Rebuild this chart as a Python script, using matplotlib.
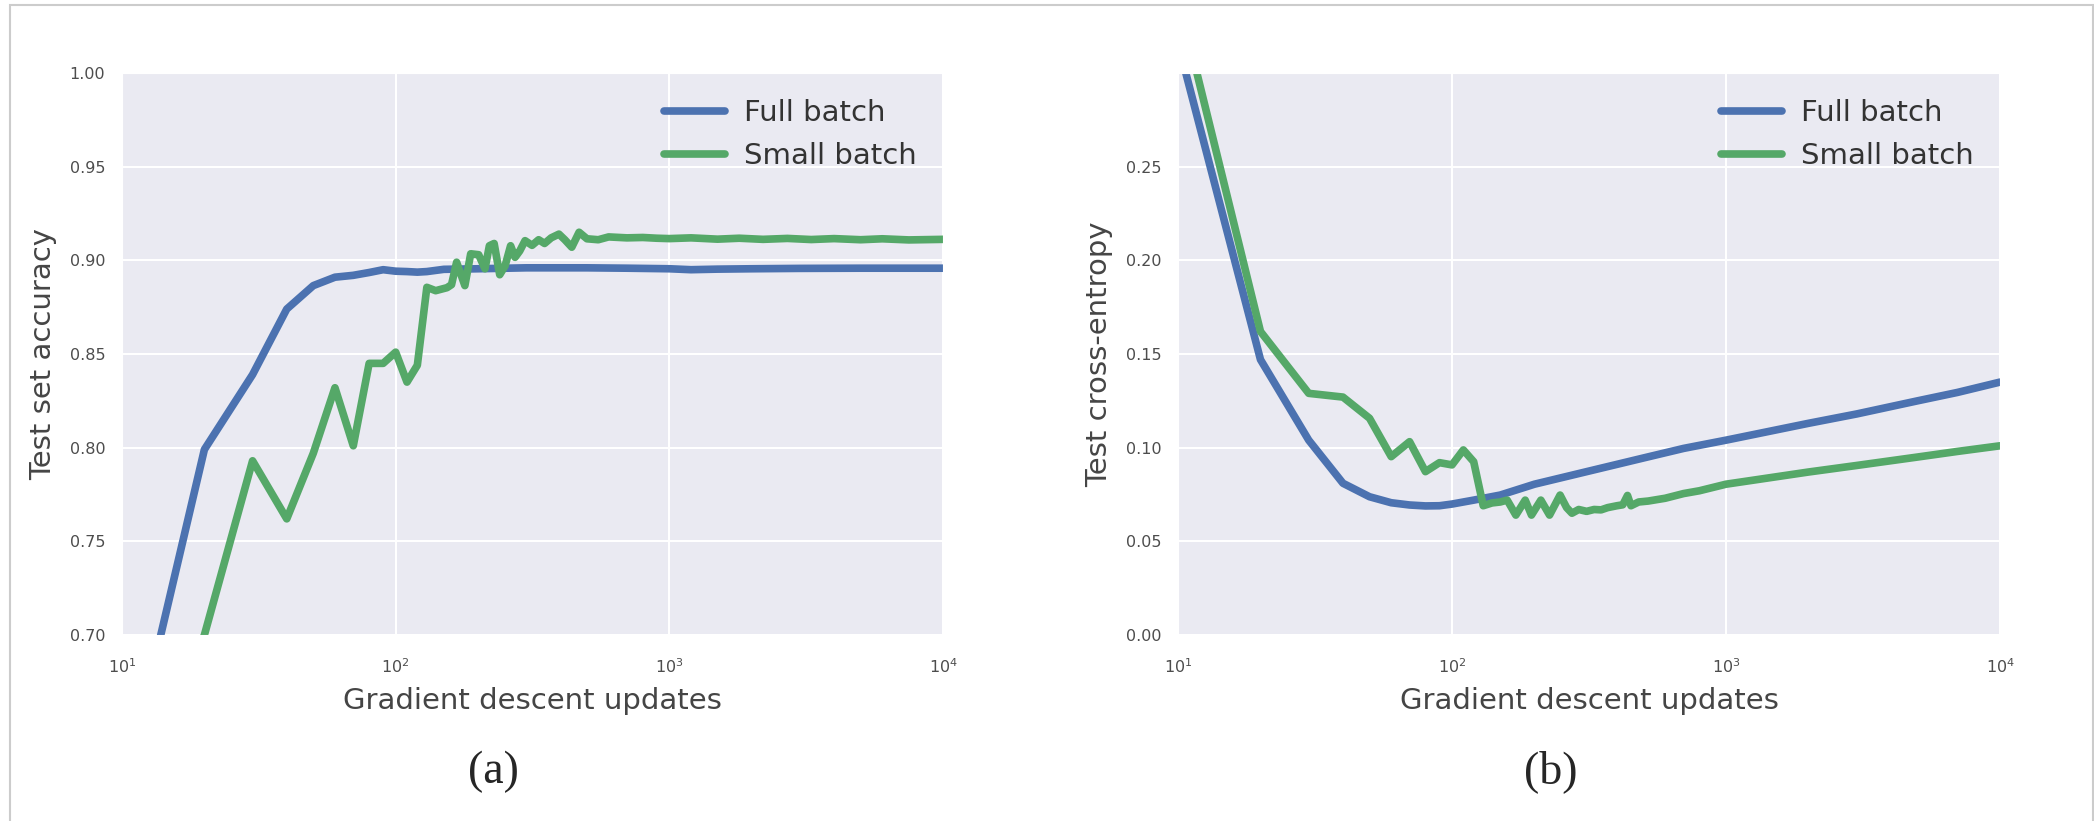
import numpy as np
import matplotlib
matplotlib.use("Agg")
import matplotlib.pyplot as plt
import seaborn as sns
from matplotlib.patches import Rectangle
from matplotlib.ticker import FormatStrFormatter

sns.set_style("darkgrid")
plt.rcParams["font.family"] = ["DejaVu Sans"]

BLUE = "#4C72B0"
GREEN = "#55A868"

# (a) test set accuracy
acc_full_x = [10, 20, 30, 40, 50, 60, 70, 80, 90, 100, 110, 120, 130, 150, 200,
              300, 500, 700, 1000, 1200, 1500, 2000, 3000, 5000, 7000, 10000]
acc_full = [0.612, 0.799, 0.839, 0.874, 0.8865, 0.891, 0.892, 0.8935, 0.895,
            0.8942, 0.894, 0.8937, 0.894, 0.8952, 0.8955, 0.896, 0.896, 0.8958,
            0.8955, 0.895, 0.8953, 0.8955, 0.8957, 0.8958, 0.8958, 0.8958]

acc_small_x = [10, 20, 30, 40, 50, 60, 70, 80, 90, 100, 110, 120, 130, 140, 154,
               160, 167, 179, 188, 201, 212, 220, 229, 240, 251, 263, 273, 284,
               297, 315, 333, 350, 370, 395, 415, 440, 468, 500, 550, 600, 700,
               800, 900, 1000, 1200, 1500, 1800, 2200, 2700, 3300, 4000, 5000,
               6000, 7500, 10000]
acc_small = [0.60, 0.700, 0.793, 0.762, 0.797, 0.832, 0.801, 0.845, 0.845, 0.851,
             0.835, 0.844, 0.8856, 0.8838, 0.8854, 0.887, 0.899, 0.8865, 0.9035,
             0.903, 0.8955, 0.9078, 0.909, 0.8923, 0.897, 0.9078, 0.9016, 0.905,
             0.9105, 0.908, 0.911, 0.909, 0.912, 0.914, 0.911, 0.907, 0.915,
             0.9115, 0.911, 0.9125, 0.912, 0.9122, 0.9118, 0.9116, 0.912, 0.9113,
             0.9118, 0.9112, 0.9117, 0.9111, 0.9116, 0.911, 0.9115, 0.9109, 0.9112]

# (b) test cross-entropy
ce_full_x = [10, 20, 30, 40, 50, 60, 70, 80, 90, 100, 120, 150, 200, 300, 500,
             700, 1000, 2000, 3000, 5000, 7000, 10000]
ce_full = [0.316, 0.147, 0.104, 0.081, 0.0738, 0.0706, 0.0694, 0.0689, 0.069,
           0.0699, 0.072, 0.0747, 0.0805, 0.0867, 0.0945, 0.0996, 0.104, 0.113,
           0.118, 0.125, 0.1295, 0.135]

ce_small_x = [10, 20, 30, 40, 50, 60, 70, 80, 90, 100, 110, 120, 130, 140, 150,
              159, 171, 185, 195, 211, 227, 248, 262, 274, 290, 310, 330, 350,
              370, 400, 420, 437, 450, 480, 520, 600, 700, 800, 1000, 2000, 3000,
              5000, 7000, 10000]
ce_small = [0.341, 0.162, 0.129, 0.127, 0.1157, 0.0952, 0.1032, 0.0872, 0.092,
            0.0908, 0.0988, 0.0925, 0.069, 0.0705, 0.071, 0.072, 0.064, 0.072,
            0.064, 0.072, 0.064, 0.0747, 0.068, 0.065, 0.067, 0.066, 0.067,
            0.0668, 0.068, 0.069, 0.0695, 0.0745, 0.069, 0.071, 0.0715, 0.073,
            0.0755, 0.077, 0.0805, 0.087, 0.0905, 0.095, 0.098, 0.101]

W, H = 2094, 821
fig = plt.figure(figsize=(W / 100, H / 100), dpi=100)

# thin frame round the page
fig.patches.append(Rectangle((9.5 / W, -0.1), (2092.5 - 9.5) / W, 1.1 - 5.5 / H,
                             transform=fig.transFigure, fill=False,
                             edgecolor="#cccccc", linewidth=1.5))

ax1 = fig.add_axes([122 / W, 1 - 635 / H, (943 - 122) / W, (635 - 73) / H])
ax2 = fig.add_axes([1178 / W, 1 - 635 / H, (2000 - 1178) / W, (635 - 73) / H])

lw = 5.5
ax1.plot(acc_full_x, acc_full, color=BLUE, lw=lw, label="Full batch")
ax1.plot(acc_small_x, acc_small, color=GREEN, lw=lw, label="Small batch")
ax1.set_ylim(0.70, 1.00)
ax1.set_yticks([0.70, 0.75, 0.80, 0.85, 0.90, 0.95, 1.00])
ax1.set_ylabel("Test set accuracy", fontsize=21, color=".27", labelpad=9)

ax2.plot(ce_full_x, ce_full, color=BLUE, lw=lw, label="Full batch")
ax2.plot(ce_small_x, ce_small, color=GREEN, lw=lw, label="Small batch")
ax2.set_ylim(0.0, 0.30)
ax2.set_yticks([0.00, 0.05, 0.10, 0.15, 0.20, 0.25])
ax2.set_ylabel("Test cross-entropy", fontsize=21, color=".27", labelpad=9)

for ax in (ax1, ax2):
    ax.set_xscale("log")
    ax.set_xlim(10, 1e4)
    ax.set_xticks([10, 100, 1000, 10000])
    ax.yaxis.set_major_formatter(FormatStrFormatter("%.2f"))
    ax.tick_params(which="both", length=0, labelsize=11.5, labelcolor=".3")
    ax.tick_params(axis="x", pad=16)
    ax.tick_params(axis="y", pad=12)
    ax.grid(True, which="major", color="white", lw=1.5)
    ax.grid(False, which="minor")
    ax.set_xlabel("Gradient descent updates", fontsize=21, color=".27", labelpad=8)
    ax.legend(loc="upper right", fontsize=21, frameon=False, handlelength=2.1,
              handletextpad=0.65, labelspacing=0.52, labelcolor=".2")

fig.text(493 / W, 1 - 772 / H, "(a)", family="Liberation Serif", fontsize=33,
         ha="center", va="center")
fig.text(1551 / W, 1 - 772 / H, "(b)", family="Liberation Serif", fontsize=33,
         ha="center", va="center")

fig.savefig("out.png", dpi=100)
